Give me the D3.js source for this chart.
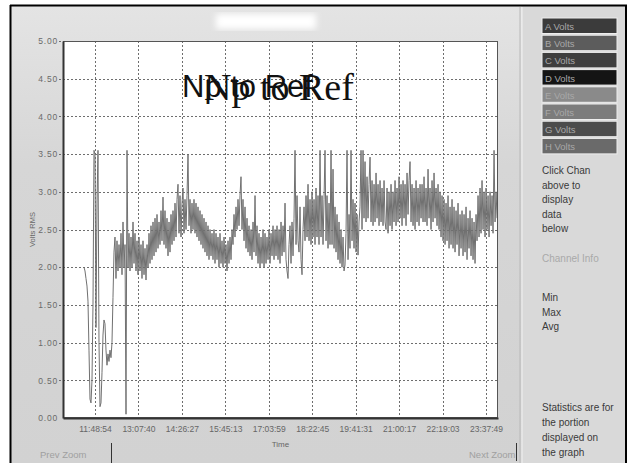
<!DOCTYPE html>
<html>
<head>
	<title>Volts RMS</title>
	<script src="https://cdn.jsdelivr.net/npm/d3@7"></script>
</head>
<style type="text/css">
body { margin: 0; background-color: #ffffff; }
text { font-family: "Liberation Sans", Arial, sans-serif; }
</style>
<body>
</body>
</html>
<script type="text/javascript">
	var w = 630;
	var h = 463;

	// data
	var tickLabels = ["11:48:54","13:07:40","14:26:27","15:45:13","17:03:59","18:22:45","19:41:31","21:00:17","22:19:03","23:37:49"];
	var timeDomain = ["10:50:53","23:59:35"];
	var startTime = "11:28:57";
	var stepSeconds = 108.8;
	var yTicks = [0,0.5,1,1.5,2,2.5,3,3.5,4,4.5,5];
	var channels = ["A Volts","B Volts","C Volts","D Volts","E Volts","F Volts","G Volts","H Volts"];
	var channelColors = ["#3b3b3b","#5c5c5c","#3e3e3e","#141414","#8a8a8a","#7c7c7c","#4c4c4c","#6a6a6a"];
	var volts = [
		2.00, 1.95, 1.85, 1.75, 1.55, 0.90, 0.25, 0.20, 0.50, 1.50,
		3.55, 3.50, 1.20, 2.85, 3.55, 1.00, 0.15, 0.20, 0.60, 1.10,
		1.30, 1.25, 0.90, 0.70, 0.85, 0.75, 0.90, 0.80, 1.00, 1.60,
		2.20, 2.40, 1.85, 2.35, 1.95, 2.30, 2.00, 2.45, 1.90, 2.60,
		2.00, 2.30, 0.05, 3.55, 2.00, 2.45, 1.95, 2.40, 2.00, 2.60,
		2.05, 2.45, 1.95, 2.35, 1.90, 2.40, 1.95, 2.30, 1.85, 2.35,
		1.90, 2.25, 1.83, 2.30, 2.00, 2.45, 2.05, 2.55, 2.10, 2.60,
		2.15, 2.65, 2.20, 2.70, 2.25, 2.60, 2.30, 2.75, 2.35, 2.93,
		2.30, 2.75, 2.25, 2.65, 2.15, 2.60, 2.20, 2.70, 2.30, 2.75,
		2.35, 2.85, 2.40, 2.90, 3.10, 2.45, 2.95, 2.40, 2.85, 3.05,
		2.45, 2.90, 2.50, 2.95, 3.50, 2.55, 2.90, 2.45, 2.85, 2.50,
		2.90, 2.45, 2.85, 2.40, 2.80, 2.35, 2.75, 2.30, 2.70, 2.25,
		2.65, 2.20, 2.60, 2.15, 2.55, 2.10, 2.50, 2.15, 2.45, 2.10,
		2.50, 2.05, 2.45, 2.10, 2.40, 2.00, 2.45, 2.05, 2.35, 2.00,
		2.40, 2.05, 2.30, 1.95, 2.35, 2.05, 2.40, 2.10, 2.50, 2.30,
		2.70, 2.40, 2.80, 2.50, 2.90, 2.55, 2.95, 3.20, 2.50, 2.90,
		2.35, 2.80, 2.25, 2.65, 2.20, 2.55, 2.15, 2.50, 2.10, 2.60,
		2.20, 2.95, 2.15, 2.55, 2.05, 2.45, 2.00, 2.40, 2.05, 2.50,
		2.00, 2.45, 2.05, 2.40, 2.10, 2.50, 2.05, 2.45, 2.15, 2.55,
		2.10, 2.50, 2.15, 2.55, 2.10, 2.50, 2.05, 2.60, 2.15, 2.55,
		2.20, 2.85, 2.10, 1.95, 1.85, 2.30, 2.55, 2.05, 2.60, 2.15,
		2.65, 3.55, 2.30, 2.95, 2.35, 2.20, 2.80, 2.10, 1.90, 2.50,
		2.80, 2.35, 2.95, 2.40, 3.10, 2.35, 2.90, 2.30, 3.00, 2.40,
		2.90, 2.30, 3.05, 2.40, 2.95, 2.30, 3.55, 2.40, 2.95, 2.30,
		2.90, 3.55, 2.35, 2.95, 2.25, 2.85, 2.30, 3.55, 2.30, 3.30,
		2.25, 2.80, 2.20, 2.70, 2.10, 2.60, 2.05, 2.50, 2.00, 2.40,
		1.95, 2.03, 2.45, 3.55, 2.10, 2.70, 2.25, 3.55, 2.35, 2.90,
		2.25, 2.85, 2.20, 2.70, 2.16, 2.60, 2.80, 3.55, 2.50, 3.55,
		2.65, 3.40, 2.60, 3.20, 2.65, 3.10, 3.46, 2.60, 3.15, 2.55,
		3.10, 2.60, 3.25, 2.65, 3.10, 2.55, 3.15, 2.60, 3.05, 2.55,
		3.15, 2.60, 2.50, 3.05, 2.45, 3.00, 2.55, 3.10, 2.50, 3.00,
		2.60, 3.15, 2.55, 3.05, 2.60, 3.20, 2.65, 3.10, 2.55, 3.15,
		2.65, 3.10, 2.55, 3.25, 2.70, 3.15, 3.40, 2.60, 3.10, 2.55,
		3.05, 2.50, 3.15, 2.60, 3.05, 2.55, 3.10, 2.65, 3.10, 2.60,
		3.20, 2.60, 3.05, 2.55, 3.30, 2.65, 3.05, 2.50, 3.15, 2.60,
		3.25, 2.65, 3.05, 2.55, 3.10, 2.50, 3.00, 2.40, 2.95, 2.35,
		2.90, 2.30, 2.85, 2.35, 2.95, 2.25, 2.80, 2.30, 2.90, 2.25,
		2.80, 2.20, 2.75, 2.30, 2.85, 2.15, 2.70, 2.25, 2.75, 2.15,
		2.70, 2.20, 2.80, 2.10, 2.65, 2.25, 2.75, 2.15, 2.65, 2.10,
		2.60, 2.05, 2.70, 2.35, 2.95, 2.40, 3.05, 2.45, 3.15, 2.50,
		3.00, 2.40, 3.05, 2.50, 2.95, 2.40, 3.00, 2.55, 2.95, 2.45,
		3.55, 2.60, 3.00, 2.65
	];

	var parseT = d3.timeParse("%Y-%m-%d %H:%M:%S");
	function t(s) { return parseT("2000-01-01 " + s); }

	var margin = {top:41, left:63, right:132, bottom:45};

	var svg = d3.select("body").append("svg").attr("width", w).attr("height", h);

	var defs = svg.append("defs");
	var grad = defs.append("linearGradient").attr("id", "bg").attr("x1", 0).attr("y1", 0).attr("x2", 0).attr("y2", 1);
	grad.append("stop").attr("offset", "0%").attr("stop-color", "#e4e4e4");
	grad.append("stop").attr("offset", "35%").attr("stop-color", "#d6d6d6");
	grad.append("stop").attr("offset", "100%").attr("stop-color", "#d2d2d2");
	defs.append("filter").attr("id", "blur").append("feGaussianBlur").attr("stdDeviation", 3);

	// window frame
	svg.append("rect").attr("x", 11).attr("y", 6).attr("width", 615).attr("height", h - 6).attr("fill", "url(#bg)");
	svg.append("rect").attr("x", 522).attr("y", 6).attr("width", 104).attr("height", h - 6).attr("fill", "#d9d9d9");
	svg.append("line").attr("x1", 520).attr("x2", 520).attr("y1", 7).attr("y2", h).attr("stroke", "#b8b8b8");
	svg.append("line").attr("x1", 522).attr("x2", 522).attr("y1", 7).attr("y2", h).attr("stroke", "#f2f2f2");
	svg.append("line").attr("x1", 10).attr("x2", 627).attr("y1", 5.5).attr("y2", 5.5).attr("stroke", "#000").attr("stroke-width", 2);
	svg.append("line").attr("x1", 10.5).attr("x2", 10.5).attr("y1", 5).attr("y2", h).attr("stroke", "#000").attr("stroke-width", 2);
	svg.append("line").attr("x1", 626).attr("x2", 626).attr("y1", 5).attr("y2", h).attr("stroke", "#000").attr("stroke-width", 2);

	// hidden title
	svg.append("rect").attr("x", 216).attr("y", 14).attr("width", 100).attr("height", 15).attr("fill", "#ffffff").attr("filter", "url(#blur)");

	var x = d3.scaleTime().domain(timeDomain.map(t)).range([margin.left, w - margin.right]);
	var y = d3.scaleLinear().domain([0, 5]).range([h - margin.bottom, margin.top]);

	svg.append("rect").attr("x", margin.left).attr("y", margin.top)
		.attr("width", x.range()[1] - margin.left).attr("height", y(0) - margin.top)
		.attr("fill", "#ffffff");

	var tickDates = tickLabels.map(t);

	// grid
	svg.append("g").selectAll("line").data(yTicks.slice(1)).enter().append("line")
		.attr("x1", margin.left - 4).attr("x2", x.range()[1])
		.attr("y1", function(d){return Math.round(y(d)) + 0.5;})
		.attr("y2", function(d){return Math.round(y(d)) + 0.5;})
		.attr("stroke", "#6e6e6e").attr("stroke-dasharray", "2,2");
	svg.append("g").selectAll("line").data(tickDates).enter().append("line")
		.attr("x1", function(d){return Math.round(x(d)) + 0.5;})
		.attr("x2", function(d){return Math.round(x(d)) + 0.5;})
		.attr("y1", margin.top).attr("y2", y(0) + 3)
		.attr("stroke", "#6e6e6e").attr("stroke-dasharray", "2,2");

	// data line
	var t0 = t(startTime).getTime();
	var points = volts.map(function(v, i){ return {time: new Date(t0 + i * stepSeconds * 1000), v: v}; });
	var line = d3.line().x(function(d){return x(d.time);}).y(function(d){return y(d.v);});
	svg.append("path").datum(points).attr("d", line)
		.attr("fill", "none").attr("stroke", "#707070").attr("stroke-width", 1);

	// plot border
	svg.append("rect").attr("x", margin.left + 0.5).attr("y", margin.top + 0.5)
		.attr("width", x.range()[1] - margin.left - 1).attr("height", y(0) - margin.top - 1)
		.attr("fill", "none").attr("stroke", "#555");

	// axes
	var yAxis = d3.axisLeft(y).tickValues(yTicks).tickSize(0).tickPadding(5).tickFormat(d3.format(".2f"));
	var gy = svg.append("g").attr("transform", "translate(" + margin.left + ",0)").call(yAxis);
	gy.select(".domain").attr("stroke", "#333").attr("stroke-width", 2);
	gy.selectAll("text").attr("fill", "#6a6a6a").style("font-size", "8.5px").style("letter-spacing", "0.8px");

	var xAxis = d3.axisBottom(x).tickValues(tickDates).tickSize(0).tickPadding(8).tickFormat(d3.timeFormat("%H:%M:%S"));
	var gx = svg.append("g").attr("transform", "translate(0," + y(0) + ")").call(xAxis);
	gx.select(".domain").attr("stroke", "#333").attr("stroke-width", 2);
	gx.selectAll("text").attr("fill", "#666").style("font-size", "8.5px");

	svg.append("text").attr("transform", "translate(35," + y(2.5) + ") rotate(-90)")
		.attr("text-anchor", "middle").attr("fill", "#666").style("font-size", "7.5px").text("Volts RMS");
	svg.append("text").attr("x", (margin.left + x.range()[1]) / 2).attr("y", 447)
		.attr("text-anchor", "middle").attr("fill", "#666").style("font-size", "8px").text("Time");

	// overlapping watermark text
	svg.append("text").attr("x", 182).attr("y", 97).style("font-family", "Liberation Sans").style("font-size", "31px")
		.attr("fill", "#111").text("Np to Ref");
	svg.append("text").attr("x", 204).attr("y", 100).style("font-family", "Liberation Serif").style("font-size", "38px")
		.attr("fill", "#111").text("Np to Ref");

	// channel buttons
	var btn = svg.append("g").selectAll("g").data(channels).enter().append("g")
		.attr("transform", function(d, i){ return "translate(542," + (18 + i * 17.2) + ")"; });
	btn.append("rect").attr("width", 75).attr("height", 15.5)
		.attr("fill", function(d, i){ return channelColors[i]; })
		.attr("stroke", "#eeeeee").attr("stroke-width", 1);
	btn.append("text").attr("x", 3).attr("y", 12).attr("fill", "#a8a8a8").style("font-size", "9.5px").text(function(d){return d;});

	var info = ["Click Chan","above to","display","data","below"];
	svg.append("g").selectAll("text").data(info).enter().append("text")
		.attr("x", 542).attr("y", function(d, i){ return 174 + i * 14.6; })
		.attr("fill", "#3a3a3a").style("font-size", "10px").text(function(d){return d;});
	svg.append("text").attr("x", 542).attr("y", 262).attr("fill", "#a9a9a9").style("font-size", "10px").text("Channel Info");
	svg.append("g").selectAll("text").data(["Min","Max","Avg"]).enter().append("text")
		.attr("x", 542).attr("y", function(d, i){ return 301 + i * 14.5; })
		.attr("fill", "#3a3a3a").style("font-size", "10px").text(function(d){return d;});
	svg.append("g").selectAll("text").data(["Statistics are for","the portion","displayed on","the graph"]).enter().append("text")
		.attr("x", 542).attr("y", function(d, i){ return 411 + i * 15; })
		.attr("fill", "#3a3a3a").style("font-size", "10px").text(function(d){return d;});

	// zoom buttons
	svg.append("text").attr("x", 40).attr("y", 458).attr("fill", "#a0a0a0").style("font-size", "9.5px").text("Prev Zoom");
	svg.append("line").attr("x1", 111.5).attr("x2", 111.5).attr("y1", 443).attr("y2", h).attr("stroke", "#333");
	svg.append("text").attr("x", 469).attr("y", 458).attr("fill", "#a0a0a0").style("font-size", "9.5px").text("Next Zoom");
	svg.append("line").attr("x1", 516.5).attr("x2", 516.5).attr("y1", 443).attr("y2", 461).attr("stroke", "#333");
</script>
